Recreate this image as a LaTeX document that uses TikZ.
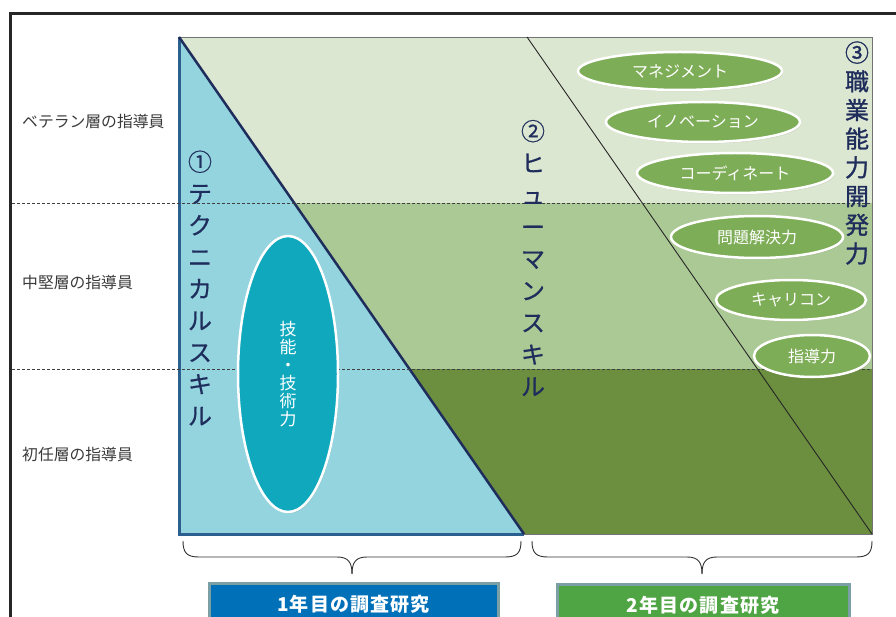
\documentclass[tikz,border=0pt]{standalone}
\usepackage{fontspec}
\setmainfont{Noto Sans CJK JP}
\usetikzlibrary{shapes.geometric,shadows}
\definecolor{lgreen}{HTML}{DCE7D1}
\definecolor{mgreen}{HTML}{ABC994}
\definecolor{dgreen}{HTML}{6B8E3F}
\definecolor{lblue}{HTML}{93D4DE}
\definecolor{tealell}{HTML}{0FA8BD}
\definecolor{greenell}{HTML}{7EAD57}
\definecolor{navy}{HTML}{1F2D5C}
\definecolor{triborder}{HTML}{2A5F8F}
\definecolor{boxblue}{HTML}{0070B9}
\definecolor{boxgreen}{HTML}{4FA443}
\definecolor{boxborder}{HTML}{7AA0A6}
\definecolor{labelgray}{HTML}{3A3A3A}
\begin{document}
\begin{tikzpicture}[x=1pt,y=-1pt,
  levellabel/.style={anchor=west, inner sep=0, text=labelgray, font=\fontsize{15.8}{18}\selectfont},
  vtext/.style={align=center, inner sep=0, text=navy},
  skillell/.style={ellipse, draw=white, line width=2.5pt, fill=greenell, inner sep=0,
    text=white, font=\fontsize{16}{18}\selectfont,
    drop shadow={opacity=0.25, shadow xshift=1pt, shadow yshift=-1.5pt}},
  yearbox/.style={draw=boxborder, line width=3pt, inner sep=0, text=white,
    font=\fontsize{19}{22}\bfseries\selectfont\addfontfeature{LetterSpace=6}},
  bracepath/.style={line width=0.9pt, draw=black!80},
  dashline/.style={dash pattern=on 3pt off 2pt, line width=0.8pt, draw=black!75}
]
\useasboundingbox (0,0) rectangle (896,617);
% outer frame
\draw[line width=3pt, draw=black!85] (896,14) -- (10,14) -- (10,620);
% bands
\fill[lgreen] (179,37) rectangle (872,203);
\fill[mgreen] (179,203) rectangle (872,369);
\fill[dgreen] (179,369) rectangle (872,534);
\draw[line width=0.8pt, draw=black!55] (179,37) rectangle (872,534);
% triangle
\fill[lblue] (179,37) -- (524,534) -- (179,534) -- cycle;
\draw[line width=3pt, draw=triborder] (179,37) -- (179,534) -- (524,534);
\draw[line width=2.5pt, draw=navy] (179,37) -- (524,534);
% second diagonal
\draw[line width=0.9pt, draw=black!85] (527,37) -- (872,534);
% dashed level lines
\draw[dashline] (12,203) -- (872,203);
\draw[dashline] (12,369) -- (872,369);
% level labels
\node[levellabel] (vet) at (22,121) {ベテラン層の指導員};
\node[levellabel] (mid) at (22,282) {中堅層の指導員};
\node[levellabel] (new) at (22,454) {初任層の指導員};
% vertical titles
\node[vtext, font=\fontsize{24}{31.75}\selectfont\addfontfeature{FakeBold=0.6}] (t1) at (200,288)
  {①\\テ\\ク\\ニ\\カ\\ル\\ス\\キ\\ル};
\node[vtext, font=\fontsize{24}{31.9}\selectfont\addfontfeature{FakeBold=0.6}] (t2) at (533,258)
  {②\\ヒ\\ュ\\ー\\マ\\ン\\ス\\キ\\ル};
\node[vtext, font=\fontsize{24}{28.7}\selectfont\addfontfeature{FakeBold=1.2}] (t3) at (857,153)
  {③\\職\\業\\能\\力\\開\\発\\力};
% technical ellipse
\node[ellipse, draw=white, line width=2.5pt, fill=tealell, inner sep=0,
  minimum width=100, minimum height=276,
  drop shadow={opacity=0.25, shadow xshift=1pt, shadow yshift=-1.5pt}] (tech) at (288,374) {};
\node[vtext, text=white, font=\fontsize{17}{18}\selectfont] (techt) at (288,374)
  {技\\能\\・\\技\\術\\力};
% skill ellipses
\node[skillell, minimum width=204, minimum height=38] (e1) at (680,71) {マネジメント};
\node[skillell, minimum width=194, minimum height=40] (e2) at (703,122) {イノベーション};
\node[skillell, minimum width=196, minimum height=40] (e3) at (735,173) {コーディネート};
\node[skillell, minimum width=172, minimum height=42] (e4) at (757,237) {問題解決力};
\node[skillell, minimum width=150, minimum height=40] (e5) at (791,300) {キャリコン};
\node[skillell, minimum width=116, minimum height=42] (e6) at (812,356) {指導力};
% braces
\draw[bracepath] (183,541) .. controls (183,553) and (187,557) .. (199,557)
  -- (337,557) .. controls (348,557) and (352,562) .. (352,574);
\draw[bracepath] (521,541) .. controls (521,553) and (517,557) .. (505,557)
  -- (367,557) .. controls (356,557) and (352,562) .. (352,574);
\draw[bracepath] (532,541) .. controls (532,553) and (536,557) .. (548,557)
  -- (687,557) .. controls (698,557) and (702,562) .. (702,574);
\draw[bracepath] (872,541) .. controls (872,553) and (868,557) .. (856,557)
  -- (717,557) .. controls (706,557) and (702,562) .. (702,574);
% year boxes
\node[yearbox, fill=boxblue, minimum width=289, minimum height=42] (y1) at (353.5,604) {1年目の調査研究};
\node[yearbox, fill=boxgreen, minimum width=292, minimum height=42] (y2) at (703,605) {2年目の調査研究};
\end{tikzpicture}
\end{document}
